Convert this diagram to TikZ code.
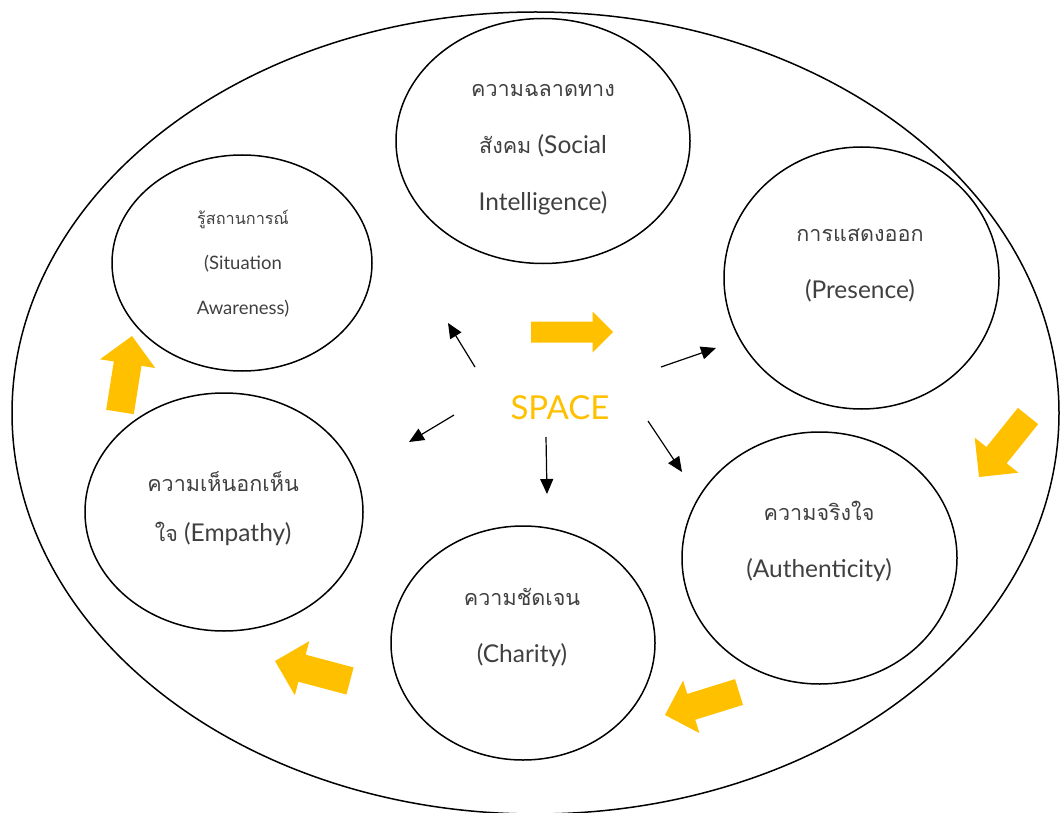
\documentclass[tikz,border=0pt]{standalone}
\usepackage{fontspec}
\setmainfont{Lato}
\newfontfamily\thaifont[Script=Thai,Scale=0.88]{Loma}
\usetikzlibrary{shapes.geometric,arrows.meta,calc}
\definecolor{spaceorange}{HTML}{FFC000}
\definecolor{txtgray}{HTML}{404040}
% block arrow: tail, tip, half body width, half head width
\newcommand{\blockarrow}[4]{%
\coordinate (hb) at ($(#2)!#4!(#1)$);
\fill[spaceorange] ($(#1)!#3!90:(#2)$) -- ($(hb)!#3!90:(#2)$) -- ($(hb)!#4!90:(#2)$) -- (#2)
  -- ($(hb)!#4!-90:(#2)$) -- ($(hb)!#3!-90:(#2)$) -- ($(#1)!#3!-90:(#2)$) -- cycle;
}
\begin{document}
\begin{tikzpicture}[x=1pt,y=-1pt,
  bubble/.style={draw,ellipse,line width=1.5pt,inner sep=0pt},
  label/.style={align=center,text=txtgray,font=\fontsize{24.5}{57}\selectfont},
  sarrow/.style={line width=1.2pt,-{Triangle[length=15pt,width=13pt]}}]
\useasboundingbox (0,0) rectangle (1060,813);
\clip (0,0) rectangle (1060,813);
\node[bubble,minimum width=1047pt,minimum height=802pt] (frame) at (535.5,413) {};
% the six circles
\node[bubble,minimum width=294pt,minimum height=245pt] (social) at (543,141) {};
\node[bubble,minimum width=260pt,minimum height=216pt] (situation) at (242,263) {};
\node[bubble,minimum width=275pt,minimum height=262pt] (presence) at (861.5,278) {};
\node[bubble,minimum width=278pt,minimum height=238pt] (empathy) at (224,512) {};
\node[bubble,minimum width=275pt,minimum height=252pt] (authentic) at (819.5,558) {};
\node[bubble,minimum width=264pt,minimum height=234pt] (charity) at (523,643) {};
% texts
\node[label] (socialtxt) at (543,150) {{\thaifont ความฉลาดทาง}\\{\thaifont สังคม} (Social\\Intelligence)};
\node[label,font=\fontsize{18.5}{45}\selectfont] (situationtxt) at (243,264) {{\thaifont รู้สถานการณ์}\\(Situation\\Awareness)};
\node[label] (presencetxt) at (860,265) {{\thaifont การแสดงออก}\\(Presence)};
\node[label,font=\fontsize{24.5}{50}\selectfont] (empathytxt) at (223,509) {{\thaifont ความเห็นอกเห็น}\\{\thaifont ใจ} (Empathy)};
\node[label] (authentictxt) at (819,541) {{\thaifont ความจริงใจ}\\(Authenticity)};
\node[label] (charitytxt) at (522,627) {{\thaifont ความชัดเจน}\\(Charity)};
\node[text=spaceorange,font=\fontsize{33}{40}\selectfont] (space) at (560,408) {SPACE};
% small arrows out of SPACE
\coordinate (nwA) at (475,367); \coordinate (nwB) at (448,323);
\coordinate (neA) at (661,367); \coordinate (neB) at (716,348);
\coordinate (wA) at (454,415);  \coordinate (wB) at (409,442);
\coordinate (sA) at (546,437);  \coordinate (sB) at (547,494);
\coordinate (seA) at (648,421); \coordinate (seB) at (682,472);
\draw[sarrow] (nwA) -- (nwB);
\draw[sarrow] (neA) -- (neB);
\draw[sarrow] (wA) -- (wB);
\draw[sarrow] (sA) -- (sB);
\draw[sarrow] (seA) -- (seB);
% orange cycle arrows
\coordinate (o1A) at (531,332);  \coordinate (o1B) at (613,332);
\coordinate (o2A) at (1028,416); \coordinate (o2B) at (979,477);
\coordinate (o3A) at (739,692);  \coordinate (o3B) at (665,715);
\coordinate (o4A) at (350,681);  \coordinate (o4B) at (275,661);
\coordinate (o5A) at (120,412);  \coordinate (o5B) at (132,336);
\blockarrow{o1A}{o1B}{10.5pt}{20.5pt}
\blockarrow{o2A}{o2B}{13pt}{28pt}
\blockarrow{o3A}{o3B}{13.5pt}{27.5pt}
\blockarrow{o4A}{o4B}{14pt}{28pt}
\blockarrow{o5A}{o5B}{14pt}{28pt}
\end{tikzpicture}
\end{document}
